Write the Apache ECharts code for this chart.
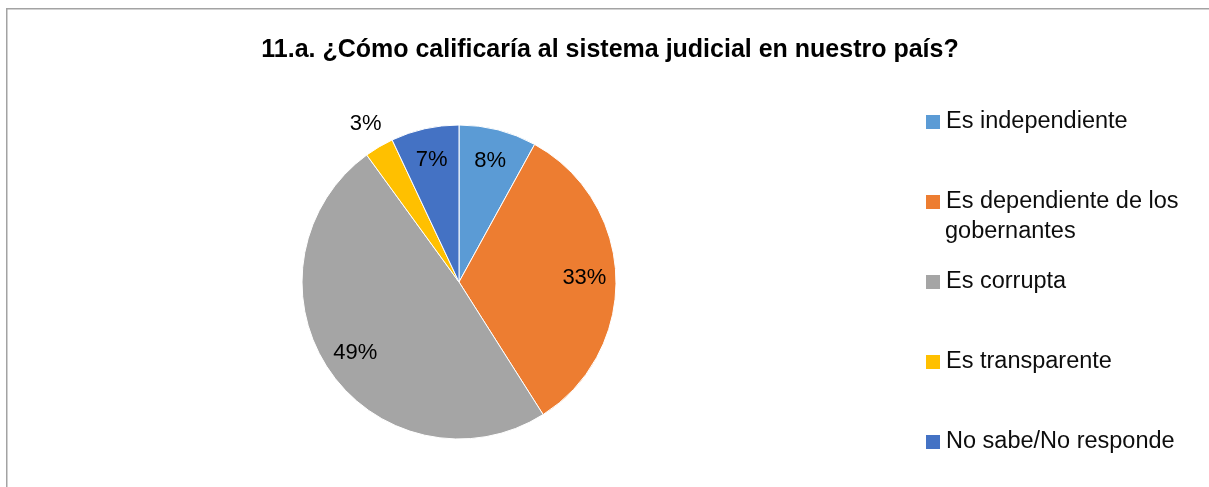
<!DOCTYPE html>
<html>
<head>
<meta charset="utf-8">
<script src="https://cdn.jsdelivr.net/npm/echarts@6/dist/echarts.min.js"></script>
<style>
  html, body { margin: 0; padding: 0; background: #fff; }
  #chart { width: 1209px; height: 487px; }
</style>
</head>
<body>
<div id="chart"></div>
<script>
// data
var categories = ['Es independiente', 'Es dependiente de los gobernantes', 'Es corrupta', 'Es transparente', 'No sabe/No responde'];
var values = [8, 33, 49, 3, 7];
var colors = ['#5B9BD5', '#ED7D31', '#A5A5A5', '#FFC000', '#4472C4'];
var outsideLabels = ['Es transparente'];  // small slice labelled outside the pie

var chart = echarts.init(document.getElementById('chart'));

var center = [459, 282];
var radius = 157;
var labelFont = { fontFamily: 'Liberation Sans', fontSize: 22, color: '#000' };

function pieData(showInside, showOutside) {
    return categories.map(function (name, i) {
        var isOut = outsideLabels.indexOf(name) >= 0;
        return {
            name: name,
            value: values[i],
            label: { show: isOut ? showOutside : showInside }
        };
    });
}

var option = {
    backgroundColor: '#fff',
    color: colors,
    title: {
        text: '11.a. ¿Cómo calificaría al sistema judicial en nuestro país?',
        left: 605,
        top: 33,
        textAlign: 'center',
        textStyle: {
            fontFamily: 'Liberation Sans',
            fontSize: 25,
            fontWeight: 'bold',
            color: '#000'
        }
    },
    legend: {
        orient: 'vertical',
        left: 924,
        top: 110,
        padding: 0,
        itemGap: 56,
        itemWidth: 16,
        itemHeight: 16,
        icon: 'rect',
        selectedMode: false,
        data: categories.map(function (name, i) {
            return { name: name, itemStyle: { color: colors[i] } };
        }),
        formatter: function (name) {
            return name === 'Es dependiente de los gobernantes' ? 'Es dependiente de los' : name;
        },
        textStyle: {
            fontFamily: 'Liberation Sans',
            fontSize: 23.5,
            lineHeight: 24,
            color: '#0d0d0d'
        }
    },
    graphic: [
        {
            type: 'rect',
            silent: true,
            shape: { x: 6.75, y: 8.75, width: 1400, height: 700 },
            style: { fill: 'none', stroke: '#a3a3a3', lineWidth: 1.5 }
        },
        {
            type: 'text',
            silent: true,
            left: 945,
            top: 220,
            style: {
                text: 'gobernantes',
                font: '23.5px "Liberation Sans"',
                fill: '#0d0d0d'
            }
        }
    ],
    series: [
        {
            // the pie itself
            type: 'pie',
            center: center,
            radius: [0, radius],
            startAngle: 90,
            clockwise: true,
            silent: true,
            label: { show: false },
            labelLine: { show: false },
            itemStyle: { borderColor: '#fff', borderWidth: 1 },
            data: categories.map(function (name, i) { return { name: name, value: values[i] }; })
        },
        {
            // invisible copy, only to place the inside labels at ~0.78 r
            type: 'pie',
            center: center,
            radius: [0, radius * 1.56],
            startAngle: 90,
            silent: true,
            avoidLabelOverlap: false,
            percentPrecision: 0,
            itemStyle: { color: 'rgba(0,0,0,0)' },
            label: Object.assign({ position: 'inside', formatter: '{d}%' }, labelFont),
            labelLine: { show: false },
            emphasis: { disabled: true },
            data: pieData(true, false)
        },
        {
            // invisible copy for the outside label of the small slice
            type: 'pie',
            center: center,
            radius: [0, radius * 2.3],
            startAngle: 90,
            silent: true,
            avoidLabelOverlap: false,
            percentPrecision: 0,
            itemStyle: { color: 'rgba(0,0,0,0)' },
            label: Object.assign({ position: 'inside', formatter: '{d}%' }, labelFont),
            labelLine: { show: false },
            emphasis: { disabled: true },
            data: pieData(false, true)
        }
    ]
};

chart.setOption(option);
</script>
</body>
</html>
